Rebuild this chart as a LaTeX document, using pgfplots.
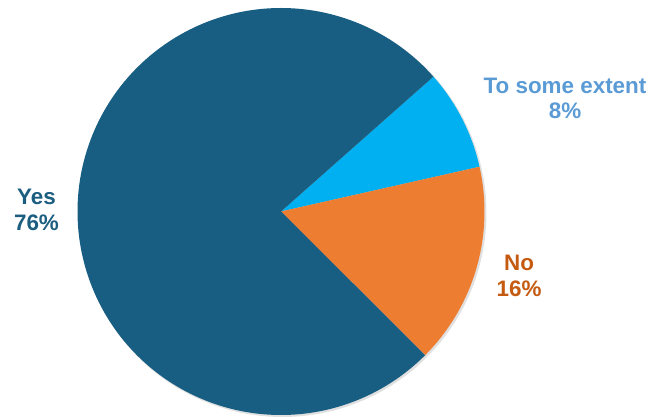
\documentclass[border=0pt]{standalone}
\usepackage{pgfplots}
\usepackage{pgfplotstable}
\pgfplotsset{compat=1.18}
\usepackage{fontspec}
\setmainfont{Liberation Sans}
\definecolor{cyes}{HTML}{175E82}
\definecolor{ctse}{HTML}{00B0F0}
\definecolor{cno}{HTML}{ED7D31}
\definecolor{tyes}{HTML}{1B5E80}
\definecolor{ttse}{HTML}{5B9BD5}
\definecolor{tno}{HTML}{C55A11}
\pgfplotstableread{
label value
TSE 8
No 16
Yes 76
}\piedata
\pgfplotstablegetelem{0}{value}\of\piedata \let\vTSE\pgfplotsretval
\pgfplotstablegetelem{1}{value}\of\piedata \let\vNo\pgfplotsretval
\pgfplotstablegetelem{2}{value}\of\piedata \let\vYes\pgfplotsretval
\pgfmathsetmacro{\aA}{41.5}
\pgfmathsetmacro{\aB}{\aA-3.6*\vTSE}
\pgfmathsetmacro{\aC}{\aB-3.6*\vNo}
\pgfmathsetmacro{\aD}{\aC-3.6*\vYes}
\def\cx{281}\def\cy{205.5}\def\R{203.5}
\begin{document}
\begin{tikzpicture}
\useasboundingbox (0,0) rectangle (665bp,417bp);
\begin{axis}[
  at={(0,0)}, anchor=south west,
  width=665bp, height=417bp, scale only axis,
  xmin=0, xmax=665, ymin=0, ymax=417,
  hide axis, clip=false,
]
\addplot[fill=black!12, draw=none, domain=0:360, samples=200, variable=\t]
  ({\cx+1.5+(\R+0.5)*cos(\t)},{\cy-1.5+(\R+0.5)*sin(\t)}) -- cycle;
\addplot[fill=ctse, draw=none, domain=\aB:\aA, samples=60, variable=\t]
  ({\cx+\R*cos(\t)},{\cy+\R*sin(\t)}) -- (axis cs:\cx,\cy) -- cycle;
\addplot[fill=cno, draw=none, domain=\aC:\aB, samples=80, variable=\t]
  ({\cx+\R*cos(\t)},{\cy+\R*sin(\t)}) -- (axis cs:\cx,\cy) -- cycle;
\addplot[fill=cyes, draw=none, domain=\aD:\aC, samples=300, variable=\t]
  ({\cx+\R*cos(\t)},{\cy+\R*sin(\t)}) -- (axis cs:\cx,\cy) -- cycle;
\node[align=center, text=tyes, font=\fontsize{22.5}{25.5}\selectfont\bfseries] at (axis cs:36.5,207) {Yes\\76\%};
\node[align=center, text=ttse, font=\fontsize{22.5}{25.5}\selectfont\bfseries] at (axis cs:565,318.5) {To some extent\\8\%};
\node[align=center, text=tno, font=\fontsize{22.5}{25.5}\selectfont\bfseries] at (axis cs:519,141) {No\\16\%};
\end{axis}
\end{tikzpicture}
\end{document}
